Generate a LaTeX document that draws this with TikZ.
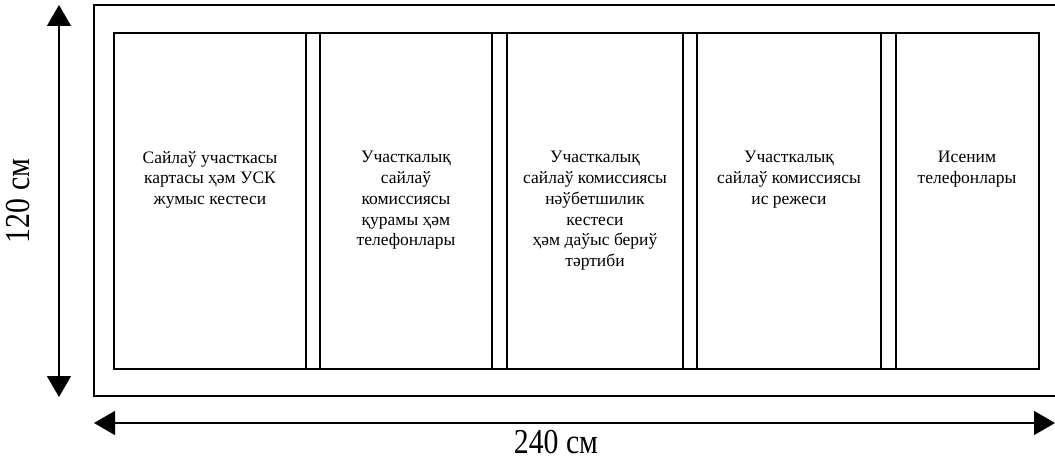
\documentclass[tikz,border=0pt]{standalone}
\usepackage{fontspec}
\setmainfont{Liberation Serif}
\usetikzlibrary{arrows.meta,positioning}

\begin{document}
\begin{tikzpicture}[x=1pt,y=-1pt,
  panel text/.style={anchor=north,align=center,inner sep=0pt,
    font=\fontsize{17.5}{20.8}\selectfont},
  size text/.style={inner sep=0pt,font=\fontsize{35}{40}\selectfont},
  size arrow/.style={line width=1.4pt,{Triangle[length=21pt,width=24pt]}-{Triangle[length=21pt,width=24pt]}}]
  \useasboundingbox (0,0) rectangle (1055,460);

  %%%%%%%%%%%%%%%%Stand frame%%%%%%%%%%%%%%
  \draw[line width=1.5pt] (94,5) rectangle (1058,396);
  \draw[line width=1.2pt] (114,33) rectangle (1039,369);

  \draw[line width=1.2pt] (306,33) -- (306,369);
  \draw[line width=1.2pt] (320,33) -- (320,369);

  \draw[line width=1.2pt] (492,33) -- (492,369);
  \draw[line width=1.2pt] (507,33) -- (507,369);

  \draw[line width=1.2pt] (683,33) -- (683,369);
  \draw[line width=1.2pt] (697,33) -- (697,369);

  \draw[line width=1.2pt] (881,33) -- (881,369);
  \draw[line width=1.2pt] (896,33) -- (896,369);

  %%%%%%%%%%%%%%%%Panel texts%%%%%%%%%%%%%%
  \node[panel text] (map) at (210,151) {Сайлаў участкасы\\картасы ҳәм УСК\\жумыс кестеси};
  \node[panel text] (staff) at (406,151) {Участкалық\\сайлаў\\комиссиясы\\қурамы ҳәм\\телефонлары};
  \node[panel text] (duty) at (595,151) {Участкалық\\сайлаў комиссиясы\\нәўбетшилик\\кестеси\\ҳәм даўыс бериў\\тәртиби};
  \node[panel text] (rules) at (789,151) {Участкалық\\сайлаў комиссиясы\\ис режеси};
  \node[panel text] (phones) at (967,151) {Исеним\\телефонлары};

  %%%%%%%%%%%%%%%%Dimensions%%%%%%%%%%%%%%
  \coordinate (height top) at (59,5);
  \coordinate (height bottom) at (59,397);
  \draw[size arrow] (height top) -- (height bottom);
  \node[size text,rotate=90] (height label) at (18,201) {\scalebox{0.85}[1]{120 см}};

  \coordinate (width left) at (94,423);
  \coordinate (width right) at (1055,423);
  \draw[size arrow] (width left) -- (width right);
  \node[size text] (width label) at (556,442) {\scalebox{0.85}[1]{240 см}};

\end{tikzpicture}
\end{document}
